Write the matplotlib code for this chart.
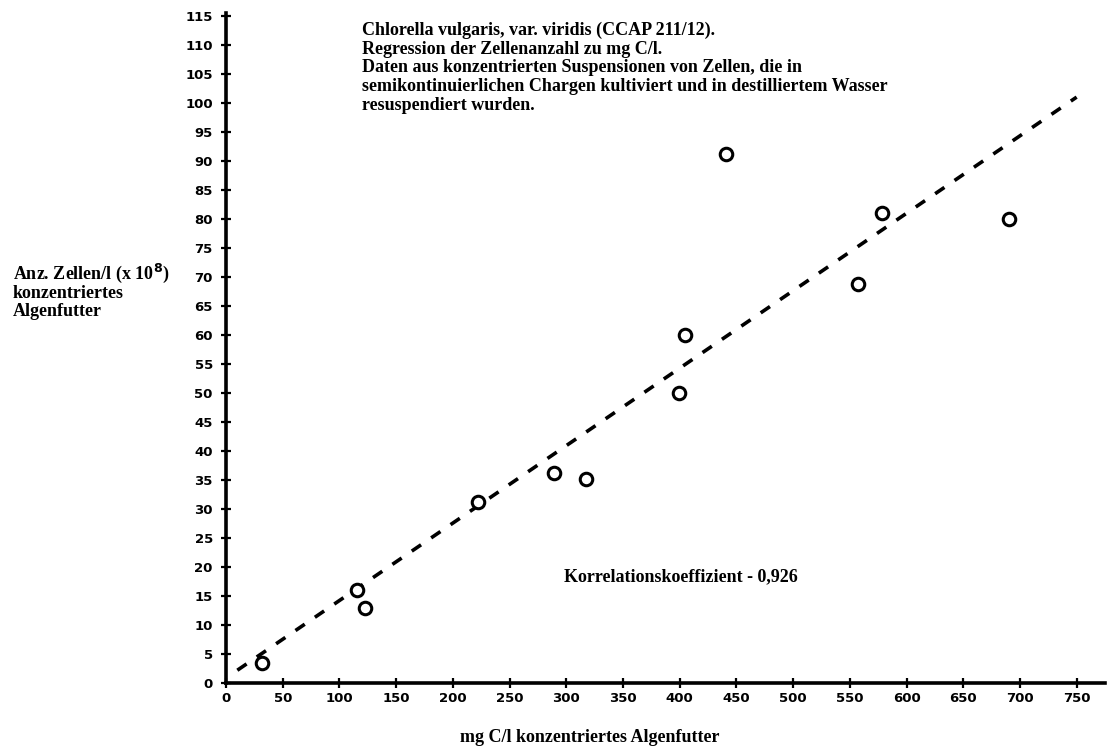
import numpy as np
import matplotlib
matplotlib.use("Agg")
import matplotlib.pyplot as plt

# values
mg_c = [32, 115.5, 122.7, 222, 289.5, 317, 399, 405, 441, 557, 578, 690]
cells = [3.4, 16.0, 12.9, 31.2, 36.2, 35.2, 50.0, 60.0, 91.2, 68.8, 81.0, 80.0]

# regression line end points
line_x = [10, 750]
line_y = [2.2, 101.0]

x_ticks = list(range(0, 751, 50))
y_ticks = list(range(0, 116, 5))

title_lines = [
    "Chlorella vulgaris, var. viridis (CCAP 211/12).",
    "Regression der Zellenanzahl zu mg C/l.",
    "Daten aus konzentrierten Suspensionen von Zellen, die in",
    "semikontinuierlichen Chargen kultiviert und in destilliertem Wasser",
    "resuspendiert wurden.",
]

serif = ["Liberation Serif", "DejaVu Serif"]

fig = plt.figure(figsize=(11.16, 7.54), dpi=100)
ax = fig.add_axes([226 / 1116, 71 / 754, 879 / 1116, 670 / 754])

ax.plot(line_x, line_y, color="black", linewidth=2.6, linestyle=(0, (3.1, 3.4)),
        dash_capstyle="butt")
ax.plot(mg_c, cells, linestyle="none", marker="o", markersize=9,
        markerfacecolor="white", markeredgecolor="black", markeredgewidth=2.2)

ax.set_xlim(0, 775)
ax.set_ylim(0, 115.5)
ax.set_xticks(x_ticks)
ax.set_yticks(y_ticks)
ax.tick_params(direction="inout", length=7, width=1.6, labelsize=9.5)
ax.tick_params(axis="y", pad=6)
ax.tick_params(axis="x", pad=3)
for lab in ax.get_xticklabels() + ax.get_yticklabels():
    lab.set_fontweight("heavy")

for side in ["top", "right"]:
    ax.spines[side].set_visible(False)
for side in ["left", "bottom"]:
    ax.spines[side].set_linewidth(2.6)

fig.text(362 / 1116, 1 - 22 / 754, "\n".join(title_lines), family=serif,
         fontsize=13, fontweight="bold", va="top", ha="left", linespacing=1.12)

fig.text(13 / 1116, 1 - 262 / 754,
         "Anz. Zellen/l (x 10$^{\\mathbf{8}}$)\nkonzentriertes\nAlgenfutter",
         family=serif, fontsize=13, fontweight="bold", va="top", ha="left",
         linespacing=1.02)

fig.text(590 / 1116, 1 - 738 / 754, "mg C/l konzentriertes Algenfutter",
         family=serif, fontsize=13, fontweight="bold", va="center", ha="center")

ax.text(298, 18.4, "Korrelationskoeffizient - 0,926", family=serif,
        fontsize=13, fontweight="bold", va="center", ha="left")

plt.savefig("out.png", dpi=100)
